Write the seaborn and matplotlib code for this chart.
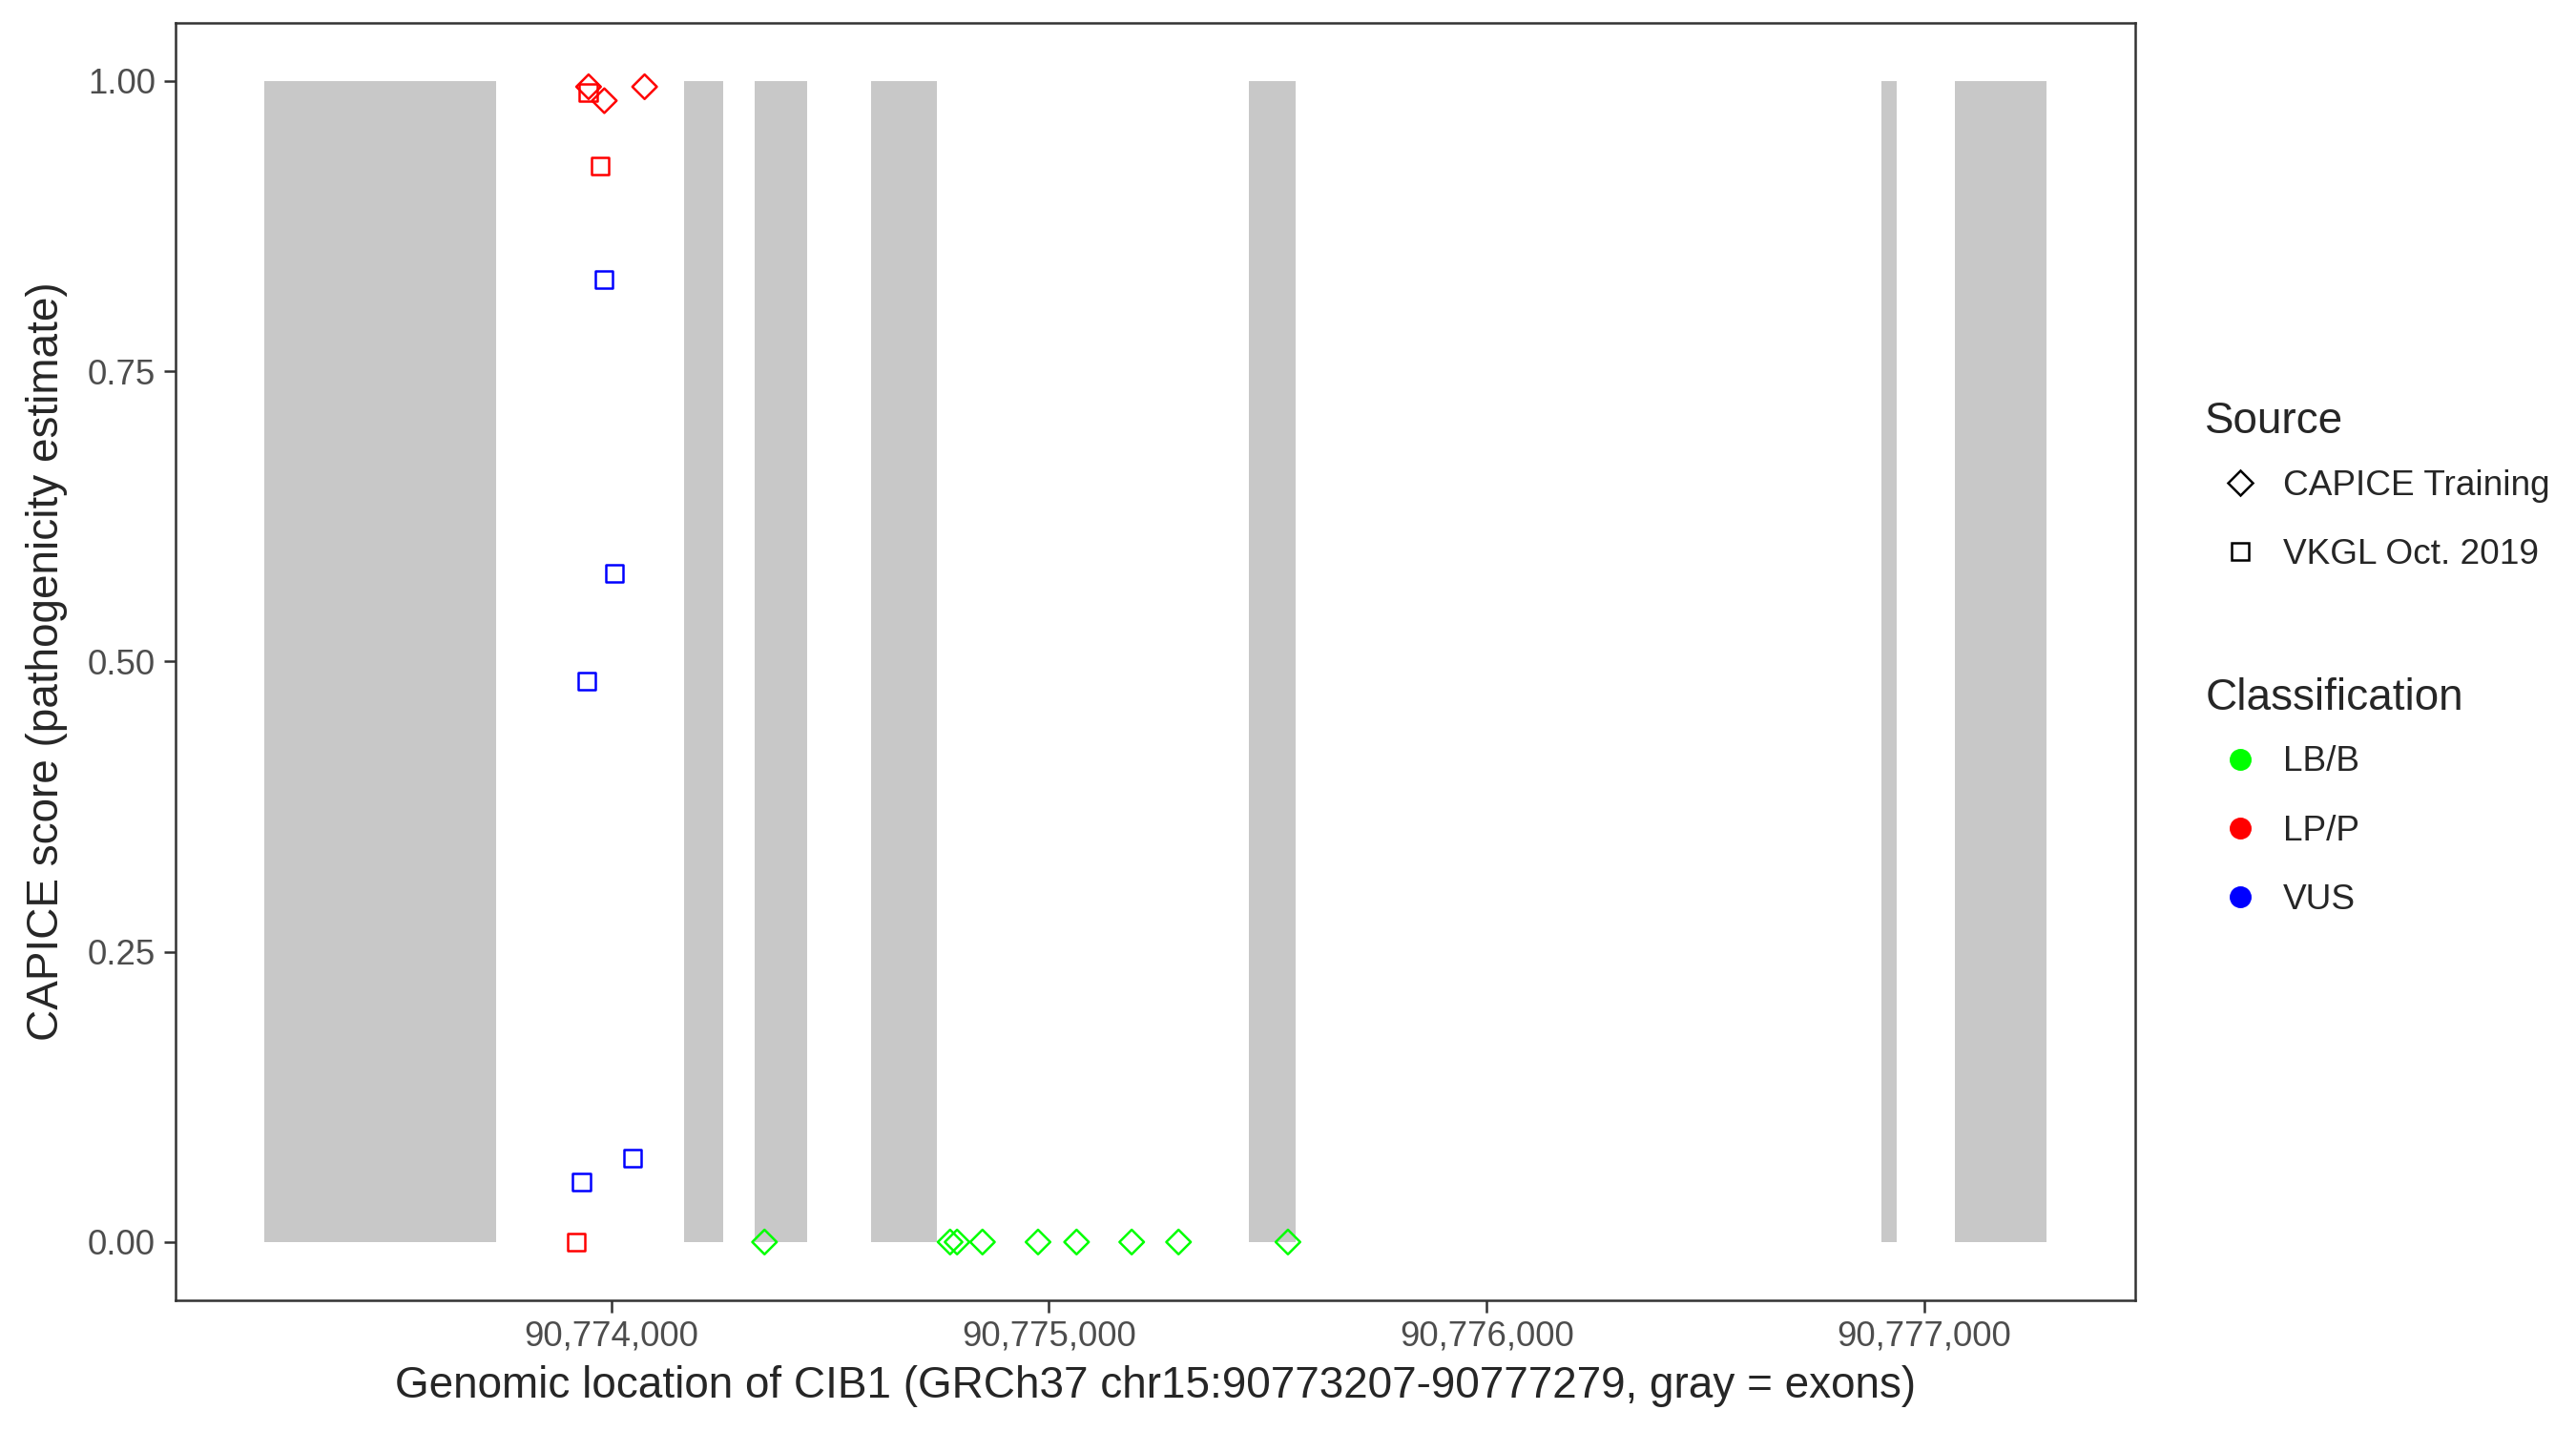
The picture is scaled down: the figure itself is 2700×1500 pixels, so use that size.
import matplotlib.pyplot as plt
import seaborn as sns
import numpy as np
import pandas as pd
from matplotlib.lines import Line2D
from matplotlib.ticker import FuncFormatter

# exony CIB1 (GRCh37, chr15)
exon_start = [90773207, 90774166, 90774328, 90774593, 90775456, 90776901, 90777069]
exon_end = [90773736, 90774255, 90774447, 90774743, 90775564, 90776937, 90777279]

# warianty
pos = [90773948, 90773984, 90774076, 90774350, 90774774, 90774790, 90774848, 90774975,
       90775063, 90775189, 90775296, 90775546,
       90773947, 90773975, 90773983, 90774007, 90773943, 90773932, 90774049, 90773920]
score = [0.995, 0.983, 0.995, 0.0, 0.0, 0.0, 0.0, 0.0,
         0.0, 0.0, 0.0, 0.0,
         0.990, 0.927, 0.829, 0.576, 0.483, 0.052, 0.072, 0.0]
source = ['CAPICE Training'] * 12 + ['VKGL Oct. 2019'] * 8
classification = ['LP/P', 'LP/P', 'LP/P', 'LB/B', 'LB/B', 'LB/B', 'LB/B', 'LB/B',
                  'LB/B', 'LB/B', 'LB/B', 'LB/B',
                  'LP/P', 'LP/P', 'VUS', 'VUS', 'VUS', 'VUS', 'VUS', 'LP/P']

data = pd.DataFrame({'pos': pos, 'score': score, 'source': source, 'classification': classification})
palette = {'LB/B': '#00FF00', 'LP/P': '#FF0000', 'VUS': '#0000FF'}
markers = {'CAPICE Training': 'D', 'VKGL Oct. 2019': 's'}

sns.set_style('white')
plt.rcParams['font.family'] = ['Liberation Sans', 'DejaVu Sans']

fig = plt.figure(figsize=(9, 5), dpi=300)
ax = fig.add_axes([0.068, 0.0915, 0.761, 0.8925])

# szare prostokaty = eksony
ax.bar(exon_start, height=1, width=np.array(exon_end) - np.array(exon_start), bottom=0,
       align='edge', color='#C8C8C8', linewidth=0, zorder=1)

sns.scatterplot(data, x='pos', y='score', hue='classification', style='source',
                palette=palette, markers=markers, s=19, linewidth=0.6, legend=False, ax=ax, zorder=3)
# puste markery - kolor tylko na obwodzie
pts = ax.collections[-1]
pts.set_edgecolors(pts.get_facecolors())
pts.set_facecolors('none')

span = max(exon_end) - min(exon_start)
ax.set_xlim(min(exon_start) - 0.05 * span, max(exon_end) + 0.05 * span)
ax.set_ylim(-0.05, 1.05)
ax.set_xticks([90774000, 90775000, 90776000, 90777000])
ax.xaxis.set_major_formatter(FuncFormatter(lambda v, p: f'{int(v):,}'))
ax.set_yticks([0, 0.25, 0.5, 0.75, 1.0])
ax.yaxis.set_major_formatter(FuncFormatter(lambda v, p: f'{v:.2f}'))
ax.tick_params(axis='both', length=3, width=0.6, color='#333333', labelsize=8.8,
               labelcolor='#4D4D4D', pad=2, bottom=True, left=True)
for sp in ax.spines.values():
    sp.set_color('#333333')
    sp.set_linewidth(0.6)
ax.grid(False)
ax.set_xlabel('Genomic location of CIB1 (GRCh37 chr15:90773207-90777279, gray = exons)',
              fontsize=11, labelpad=3)
ax.set_ylabel('CAPICE score (pathogenicity estimate)', fontsize=11, labelpad=5)

# legendy (tytuly osobno, zeby ustawic odstepy jak w ggplot)
fig.text(0.856, 0.705, 'Source', fontsize=11, va='center', ha='left')
src_handles = [Line2D([], [], ls='none', marker=markers[k], markersize=4.3, markerfacecolor='none',
                      markeredgecolor='black', markeredgewidth=0.6) for k in markers]
fig.legend(src_handles, list(markers), loc='upper left', bbox_to_anchor=(0.8626, 0.672),
           frameon=False, fontsize=8.9, borderpad=0, borderaxespad=0,
           handlelength=1.0, handletextpad=0.72, labelspacing=1.0)

fig.text(0.856, 0.512, 'Classification', fontsize=11, va='center', ha='left')
cls_handles = [Line2D([], [], ls='none', marker='o', markersize=4.5, color=palette[k]) for k in palette]
fig.legend(cls_handles, list(palette), loc='upper left', bbox_to_anchor=(0.8626, 0.479),
           frameon=False, fontsize=8.9, borderpad=0, borderaxespad=0,
           handlelength=1.0, handletextpad=0.72, labelspacing=1.0)

fig.savefig('out.png', dpi=300)
